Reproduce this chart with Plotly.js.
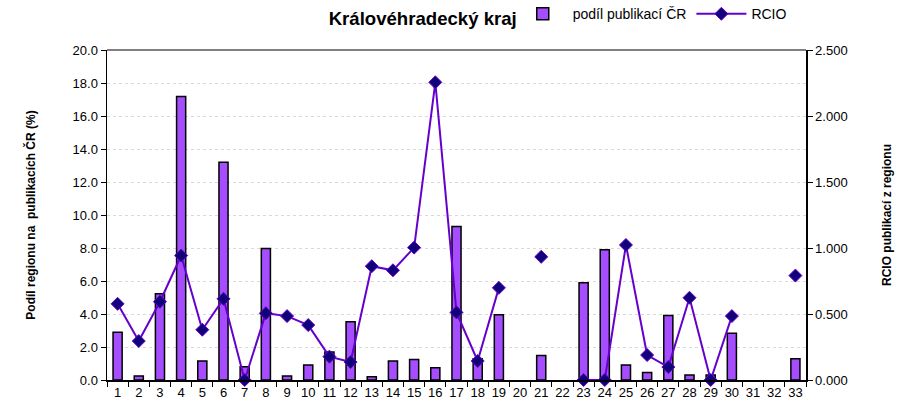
<!DOCTYPE html>
<html>
<head>
<meta charset="utf-8">
<script src="https://cdn.plot.ly/plotly-3.0.1.min.js"></script>
<style>html,body{margin:0;padding:0;background:#fff;}#chart{width:898px;height:405px;}</style>
</head>
<body>
<div id="chart"></div>
<script>
var regions = ['1','2','3','4','5','6','7','8','9','10','11','12','13','14','15','16','17','18','19','20','21','22','23','24','25','26','27','28','29','30','31','32','33'];
var podil = [2.90, 0.25, 5.22, 17.18, 1.15, 13.19, 0.81, 7.97, 0.24, 0.91, 1.70, 3.53, 0.20, 1.15, 1.25, 0.75, 9.30, 1.29, 3.96, null, 1.49, null, 5.89, 7.89, 0.91, 0.45, 3.91, 0.30, 0.30, 2.84, null, null, 1.29];
var rcio = [0.577, 0.295, 0.593, 0.943, 0.381, 0.615, 0.000, 0.506, 0.484, 0.416, 0.177, 0.136, 0.862, 0.831, 1.003, 2.255, 0.512, 0.144, 0.698, null, 0.933, null, 0.000, 0.000, 1.023, 0.189, 0.098, 0.623, 0.000, 0.484, null, null, 0.791];

var font = 'Arial, "Liberation Sans", sans-serif';

var traces = [
  {
    type: 'bar', name: 'podíl publikací ČR', x: regions, y: podil,
    marker: {color: '#A64DFF', line: {color: '#000000', width: 1.5}},
    yaxis: 'y'
  },
  {
    type: 'scatter', mode: 'lines+markers', name: 'RCIO', x: regions, y: rcio,
    yaxis: 'y2', connectgaps: false, cliponaxis: false,
    line: {color: '#6600CC', width: 2},
    marker: {symbol: 'diamond', size: 10, color: '#10007A', line: {color: '#6600CC', width: 1}}
  }
];

var layout = {
  width: 898, height: 405,
  margin: {l: 107, r: 92, t: 50, b: 25, autoexpand: false},
  paper_bgcolor: '#ffffff', plot_bgcolor: '#ffffff',
  font: {family: font, size: 13, color: '#000'},
  bargap: 0.57,
  showlegend: true,
  title: {
    text: 'Královéhradecký kraj',
    font: {family: font, size: 18.6, color: '#000', weight: 'bold'},
    xref: 'container', x: 0.366, xanchor: 'left',
    yref: 'container', y: 0.955, yanchor: 'middle'
  },
  legend: {
    orientation: 'h', xref: 'container', x: 0.571, xanchor: 'left',
    yref: 'container', y: 0.965, yanchor: 'middle',
    bgcolor: '#ffffff', font: {family: font, size: 14, color: '#000'},
    itemwidth: 50, tracegroupgap: 0
  },
  xaxis: {
    type: 'category', tickson: 'boundaries', range: [-0.5, 32.5], tickangle: 0,
    ticks: 'outside', ticklen: 5, tickcolor: '#000', tickwidth: 1,
    showline: true, linecolor: '#000', linewidth: 1.5,
    showgrid: false, zeroline: false,
    tickfont: {family: font, size: 13, color: '#000'}
  },
  yaxis: {
    range: [0, 20], dtick: 2, tickformat: '.1f',
    ticks: 'outside', ticklen: 5, tickcolor: '#000',
    showline: true, linecolor: '#000', linewidth: 1.5,
    showgrid: true, gridcolor: '#d9d9d9', griddash: 'dot', gridwidth: 1,
    zeroline: false,
    tickfont: {family: font, size: 13, color: '#000'},
    title: {text: 'Podíl regionu na  publikacích ČR (%)', font: {family: font, size: 12, color: '#000', weight: 'bold'}, standoff: 34}
  },
  yaxis2: {
    overlaying: 'y', side: 'right',
    range: [0, 2.5], dtick: 0.5, tickformat: '.3f',
    ticks: 'outside', ticklen: 5, tickcolor: '#000',
    showline: true, linecolor: '#000', linewidth: 1.5,
    showgrid: false, zeroline: false,
    tickfont: {family: font, size: 13, color: '#000'},
    title: {text: 'RCIO publikací z regionu', font: {family: font, size: 12, color: '#000', weight: 'bold'}, standoff: 36}
  },
  shapes: [
    {type: 'line', xref: 'paper', yref: 'paper', x0: 0, x1: 1, y0: 1, y1: 1, line: {color: '#808080', width: 2}}
  ]
};

Plotly.newPlot('chart', traces, layout, {displayModeBar: false, staticPlot: true});
</script>
</body>
</html>
